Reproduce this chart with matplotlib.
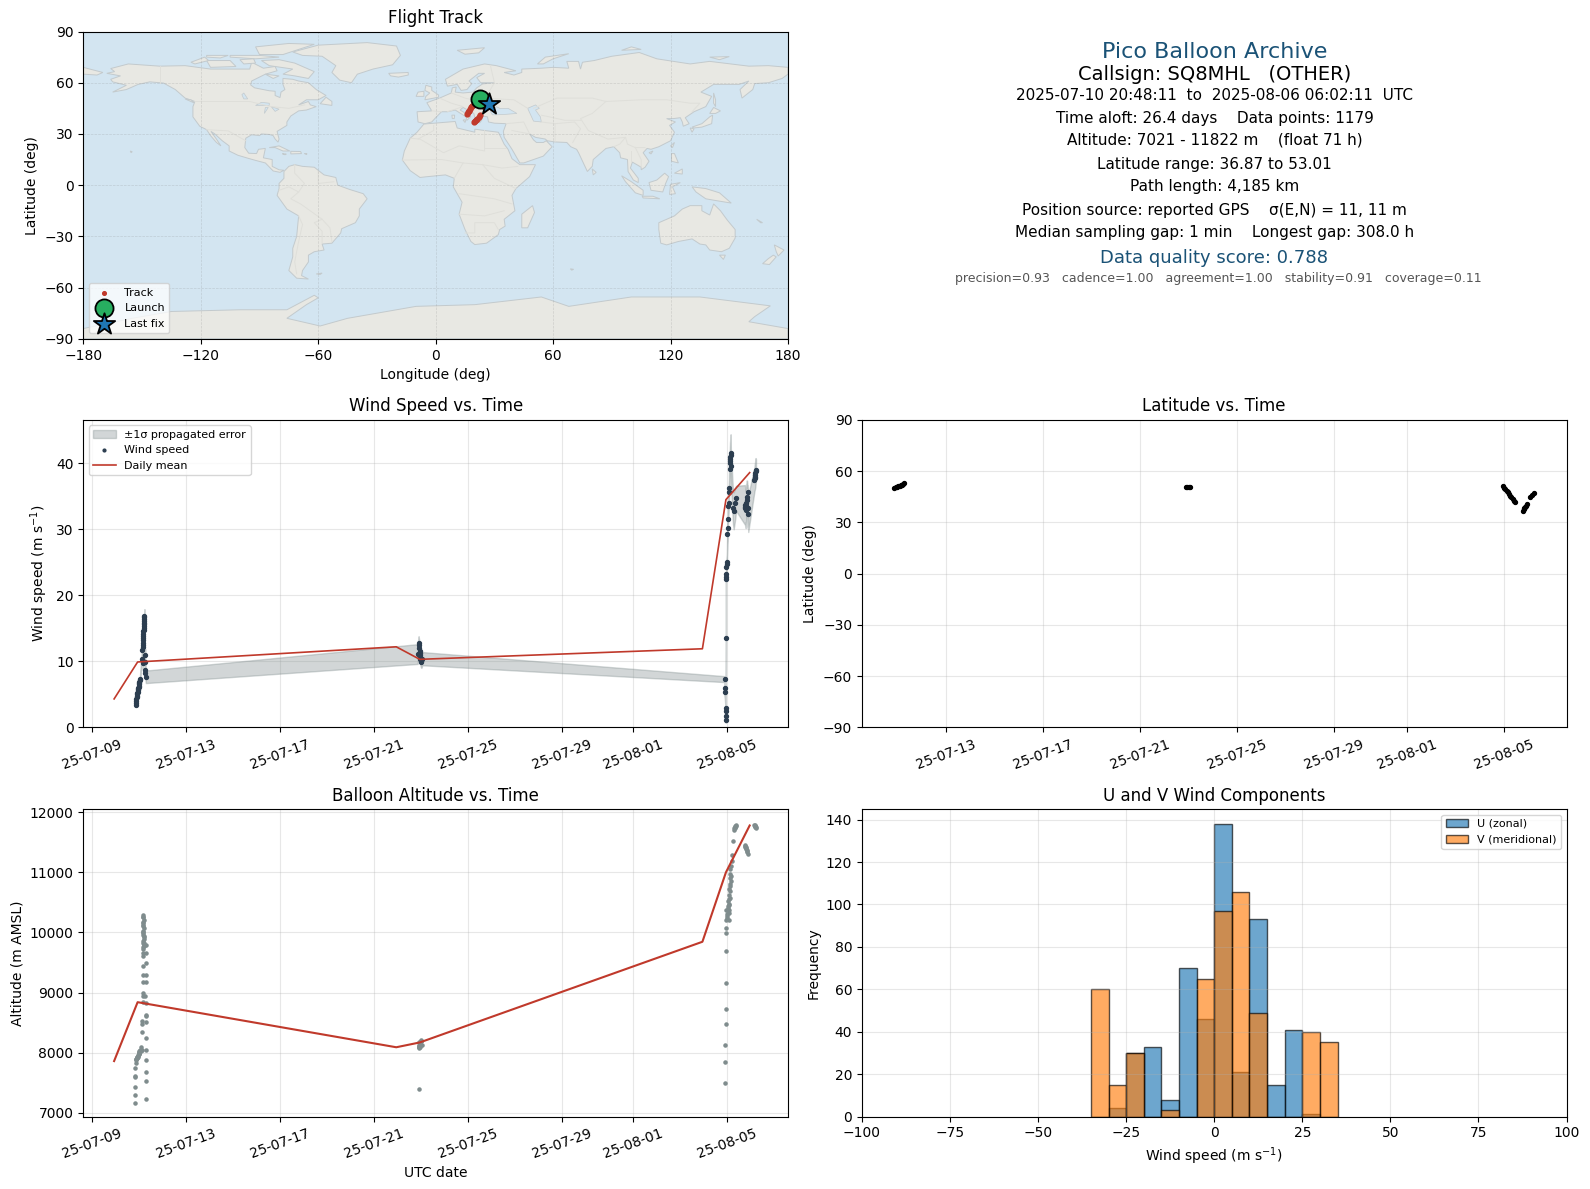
"""Plots a four day-by-day summary of a pico balloon flight."""


import datetime

import matplotlib
matplotlib.use('Agg')
import matplotlib.dates as mdates
import matplotlib.pyplot as plt
import numpy as np
from matplotlib.patches import Polygon


_FIG_WIDTH = 1590
_FIG_HEIGHT = 1189

_OCEAN_COLOR = '#d3e5f1'
_LAND_COLOR = '#e8e8e3'
_RED = '#c0392b'
_DARK = '#2c3e50'
_GRAY = '#7f8c8d'
_TITLE_BLUE = '#1a5276'

_START_DATE = datetime.datetime(2025, 7, 9)

# Times below are days since 2025-07-09 00:00 UTC.

mean_days = [0.95, 1.95, 12.95, 13.95, 25.97, 26.97, 27.98]
mean_wind = [4.3, 9.9, 12.2, 10.3, 11.9, 34.5, 38.6]
mean_altitude = [7860, 8840, 8090, 8170, 9845, 11000, 11780]

wind_days = [
    1.87, 1.88, 1.89, 1.90, 1.91, 1.92, 1.93, 1.94, 1.95, 1.96, 1.97, 1.98,
    1.99, 2.00, 2.01, 2.02, 2.03, 2.04, 2.05, 2.15, 2.15, 2.16, 2.17, 2.17,
    2.18, 2.18, 2.19, 2.19, 2.20, 2.20, 2.21, 2.21, 2.22, 2.22, 2.22, 2.23,
    2.23, 2.24, 2.24, 2.25, 2.26, 2.27, 2.28, 2.30,
    13.86, 13.90, 13.92, 13.93, 13.94, 13.95, 13.96, 13.97, 13.98, 14.00,
    14.02, 14.06,
    26.91, 26.91, 26.91, 26.96, 26.96, 26.96, 26.96, 26.97, 26.97, 26.97,
    26.97, 26.99, 27.00, 27.01, 27.03, 27.05, 27.05, 27.07, 27.08, 27.10,
    27.10, 27.13, 27.14, 27.15, 27.15, 27.16, 27.17, 27.17, 27.18,
    27.27, 27.30, 27.37, 27.40,
    27.78, 27.80, 27.80, 27.81, 27.82, 27.83, 27.85, 27.87, 27.90, 27.90,
    27.92,
    28.18, 28.19, 28.20, 28.21, 28.22, 28.23, 28.25,
]
wind_speed = [
    3.4, 3.7, 4.0, 4.3, 4.6, 4.8, 5.0, 5.2, 5.4, 5.6, 5.8, 5.9,
    6.1, 6.3, 6.5, 6.7, 6.9, 7.1, 7.3, 11.7, 10.4, 9.7, 13.2, 12.8,
    12.5, 12.1, 13.6, 13.9, 14.2, 14.6, 15.0, 14.8, 15.4, 15.8, 15.6, 16.1,
    16.4, 16.7, 16.8, 8.7, 9.9, 11.0, 8.2, 7.65,
    11.1, 12.8, 12.4, 12.0, 11.6, 11.2, 10.9, 10.6, 10.3, 10.0,
    9.9, 10.4,
    7.3, 5.9, 5.3, 3.0, 2.4, 1.7, 1.1, 13.6, 22.4, 22.8,
    23.2, 24.3, 24.7, 25.1, 29.3, 30.2, 31.5, 33.5, 34.0, 35.7,
    36.3, 39.2, 40.0, 40.6, 40.3, 41.0, 41.5, 41.2, 39.6,
    33.3, 32.8, 34.0, 34.7,
    33.7, 33.2, 33.4, 33.0, 34.0, 33.6, 34.9, 34.4, 33.2, 35.7,
    32.4,
    37.5, 37.8, 38.0, 38.2, 38.5, 38.8, 39.0,
]
wind_sigma = [
    0.3, 0.3, 0.3, 0.3, 0.4, 0.4, 0.4, 0.4, 0.4, 0.4, 0.4, 0.4,
    0.4, 0.4, 0.4, 0.4, 0.5, 0.5, 0.5, 0.8, 0.8, 0.8, 0.9, 0.9,
    0.9, 0.9, 0.9, 1.0, 1.0, 1.0, 1.0, 1.0, 1.1, 1.1, 1.1, 1.1,
    1.1, 1.1, 1.1, 0.9, 0.9, 0.9, 0.9, 0.95,
    1.5, 1.0, 1.0, 1.0, 1.0, 1.0, 1.0, 1.0, 1.0, 0.9,
    0.9, 1.0,
    0.45, 0.4, 0.4, 0.4, 0.4, 0.4, 0.4, 0.5, 0.6, 0.6,
    0.6, 1.0, 1.0, 1.0, 1.5, 1.5, 1.5, 1.8, 1.8, 2.0,
    2.0, 2.5, 2.7, 2.8, 2.8, 2.9, 2.9, 2.9, 2.6,
    2.5, 2.8, 2.3, 1.9,
    3.0, 2.8, 2.8, 2.8, 2.8, 2.8, 2.5, 3.0, 3.0, 1.0,
    2.8,
    1.8, 1.9, 2.0, 2.0, 2.1, 2.0, 1.6,
]

altitude_days = [
    2.19, 2.20, 2.21, 2.19, 2.20, 2.21, 2.19, 2.20, 2.22, 2.21, 2.19, 2.20,
    2.21, 2.16, 2.29, 2.29, 2.16, 2.29, 2.16, 2.16, 2.29, 2.16, 2.29, 2.16,
    2.27, 2.16, 2.18, 2.29, 2.29, 2.13, 2.29, 2.13, 2.29, 2.13, 2.29, 2.13,
    2.08, 2.29, 2.01, 1.94, 1.87, 2.29, 1.94, 2.01, 2.08, 1.87, 1.84, 2.29,
    1.84, 1.84, 2.29, 1.84, 1.84, 2.29, 1.84,
    13.90, 13.91, 13.92, 13.93, 13.94, 13.94, 13.95, 13.96, 13.97, 13.98,
    13.99, 14.00, 14.02, 14.03, 13.95,
    26.91, 26.91, 26.91, 26.96, 26.96, 26.96, 26.96, 26.96, 26.96, 26.96,
    27.12, 27.01, 27.08, 26.97, 27.11, 27.04, 27.11, 27.07, 27.14, 27.16,
    27.16, 27.17, 27.17, 27.19, 27.21, 27.22, 27.26, 27.33, 27.37, 27.40,
    27.33, 27.78, 27.79, 27.82, 27.87, 27.91, 28.18, 28.22, 28.25, 28.20,
    # Denser parts of the clusters.
    1.88, 1.90, 1.92, 1.93, 1.95, 1.96, 1.97, 1.99, 2.00, 2.02, 2.03, 2.05,
    2.18, 2.18, 2.18, 2.19, 2.20, 2.21, 2.22, 2.22, 2.17, 2.17,
    13.91, 13.92, 13.93, 13.95, 13.96, 13.97, 13.98, 13.99,
    27.00, 27.03, 27.05, 27.06, 27.08, 27.09, 27.10, 27.12, 27.13, 27.14,
    27.15, 27.16, 27.34, 27.36, 27.39, 27.80, 27.83, 27.84, 27.86, 27.88,
    28.19, 28.21, 28.23,
]
altitude = [
    10296, 10252, 10208, 10163, 10119, 10075, 10030, 9986, 9942, 9897, 9853,
    9820, 9797, 9753, 9797, 9660, 9610, 9500, 9440, 9290, 9290, 9170, 9170,
    9000, 8950, 8945, 8845, 8820, 8610, 8530, 8620, 8480, 8510, 8340, 8250,
    8050, 8090, 8050, 7970, 7930, 7900, 7880, 7935, 8000, 8025, 7820, 7740,
    7680, 7610, 7600, 7530, 7430, 7300, 7230, 7170,
    7390, 8080, 8100, 8120, 8130, 8140, 8150, 8160, 8170, 8180, 8190, 8200,
    8210, 8130, 8150,
    7500, 7850, 8133, 8482, 8732, 9165, 9697, 9997, 10080, 10213,
    10213, 10268, 10324, 10380, 10380, 10435, 10462, 10518, 10573, 10684,
    10767, 10850, 10933, 11100, 11183, 11294, 11527, 11710, 11766, 11782,
    11745, 11460, 11430, 11405, 11350, 11311, 11794, 11750, 11738, 11770,
    7880, 7895, 7910, 7905, 7925, 7950, 7960, 7980, 7990, 8010, 8030, 8050,
    10260, 10180, 10100, 10010, 9960, 9920, 9830, 9770, 9720, 9660,
    8090, 8110, 8170, 8100, 8120, 8140, 8160, 8190,
    10240, 10300, 10350, 10400, 10480, 10550, 10620, 10720, 10800, 10900,
    10980, 11050, 11730, 11750, 11770, 11440, 11420, 11385, 11370, 11335,
    11780, 11770, 11760,
]

track_days = [
    1.87, 1.93, 1.99, 2.05, 2.10, 2.15, 2.20, 2.25, 2.28,
    13.90, 13.95, 14.00, 14.05,
    26.96, 27.00, 27.05, 27.10, 27.15, 27.20, 27.25, 27.30, 27.35, 27.40,
    27.44,
    27.77, 27.80, 27.83, 27.86, 27.90, 27.95,
    28.05, 28.15, 28.25,
]
track_lat = [
    50.3, 50.5, 50.8, 51.0, 51.3, 51.7, 52.1, 52.6, 53.0,
    50.6, 50.6, 50.6, 50.7,
    51.2, 50.3, 49.4, 48.5, 47.5, 46.6, 45.6, 44.6, 43.6, 42.6,
    41.8,
    36.9, 37.5, 38.2, 39.0, 39.8, 41.0,
    45.0, 46.2, 47.4,
]
track_lon = [
    22.6, 22.8, 23.0, 23.2, 23.4, 23.6, 24.0, 24.5, 25.0,
    22.0, 22.2, 22.4, 22.6,
    21.8, 21.2, 20.6, 20.0, 19.4, 18.8, 18.2, 17.6, 17.0, 16.4,
    15.9,
    19.5, 20.0, 20.6, 21.2, 21.9, 22.6,
    25.0, 26.2, 27.3,
]

hist_edges = [
    -35, -30, -25, -20, -15, -10, -5, 0, 5, 10, 15, 20, 25, 30, 35]
hist_u = [0, 4, 30, 33, 8, 70, 46, 138, 21, 93, 15, 41, 1, 0]
hist_v = [60, 15, 30, 0, 3, 0, 65, 97, 106, 49, 0, 0, 40, 35]

info_title = 'Pico Balloon Archive'
info_callsign = 'Callsign: SQ8MHL   (OTHER)'
info_lines = [
    '2025-07-10 20:48:11  to  2025-08-06 06:02:11  UTC',
    'Time aloft: 26.4 days    Data points: 1179',
    'Altitude: 7021 - 11822 m    (float 71 h)',
    'Latitude range: 36.87 to 53.01',
    'Path length: 4,185 km',
    'Position source: reported GPS    \u03c3(E,N) = 11, 11 m',
    'Median sampling gap: 1 min    Longest gap: 308.0 h',
]
info_score = 'Data quality score: 0.788'
info_parts = (
    'precision=0.93   cadence=1.00   agreement=1.00   stability=0.91   '
    'coverage=0.11')

# Rough world outlines, (longitude, latitude).

north_america = [
    (-168, 65.5), (-164, 66.5), (-166, 68.3), (-157, 71), (-141, 69.7),
    (-128, 70), (-115, 68), (-108, 68), (-95, 68), (-94, 72), (-88, 68.5),
    (-82, 69.5), (-81, 67), (-87, 65), (-94, 61), (-94.5, 58.7), (-92.5, 57),
    (-85, 55.3), (-82, 55), (-82, 52.5), (-79.5, 51.3), (-79, 54.5),
    (-77, 56), (-78, 59), (-78, 62.5), (-73, 62), (-70, 61), (-65, 60),
    (-61, 56), (-56, 52.5), (-60, 50), (-66, 50), (-70, 47), (-65, 49),
    (-64, 47), (-61, 46), (-66, 44), (-70, 43.5), (-74, 40.5), (-76, 37),
    (-76, 35), (-81, 31.5), (-80, 27), (-80.5, 25.2), (-82, 27), (-83, 29),
    (-85, 29.7), (-89, 30), (-90, 29), (-94, 29.5), (-97, 27.5), (-97.5, 22),
    (-95.5, 18.7), (-91.5, 18.5), (-90.5, 21), (-87, 21.5), (-88, 16),
    (-83.5, 15), (-83.5, 11), (-80, 9), (-77.5, 8.7), (-79.5, 7.5),
    (-83, 8.3), (-87, 13), (-92, 14.5), (-96, 15.8), (-101, 17.5),
    (-105.5, 20), (-105.5, 23), (-109, 26), (-112.8, 30), (-114.8, 31.5),
    (-112, 27), (-109.7, 23), (-112, 25), (-115, 29), (-117, 32.5),
    (-120.5, 34.5), (-124, 40), (-124, 46), (-123, 49), (-128, 51),
    (-133, 56), (-139, 59.8), (-146, 60.5), (-152, 59), (-158, 56),
    (-165, 54.5), (-158, 58.5), (-165, 60.5), (-166, 62), (-161, 64),
]
south_america = [
    (-75, 11), (-72, 12), (-68, 11), (-62, 10.5), (-57, 6), (-51, 4.5),
    (-50, 0), (-44, -2.5), (-37, -5), (-35, -8), (-39, -14), (-39, -18),
    (-41, -22), (-48, -25.5), (-48.5, -28), (-53, -34), (-58, -34.5),
    (-57, -38), (-62, -39), (-65, -41), (-65, -45), (-68, -50), (-68.5, -53),
    (-65, -55), (-71, -54.5), (-75, -50), (-73, -42), (-73, -37), (-71, -30),
    (-70, -18), (-76, -14), (-81, -6), (-80, -2), (-80, 1), (-77.5, 4),
    (-77.5, 8),
]
africa = [
    (-6, 35.8), (10, 37.3), (11, 33.5), (20, 31), (20, 32.8), (25, 32),
    (32, 31), (32.5, 30), (35, 24), (37, 21), (39, 15.5), (43, 12), (51, 12),
    (48, 5), (41, -2), (39, -6), (40.5, -15), (35, -20), (35.5, -24),
    (32.7, -26), (32, -29), (26, -34), (20, -34.8), (18, -33), (15, -26),
    (12, -17), (13.5, -10), (9, -1), (9.5, 4), (5, 6), (-4, 5), (-8, 4.5),
    (-13, 8.5), (-17, 14.7), (-16, 20), (-13, 27.5), (-9.5, 31),
]
eurasia = [
    (-9, 37), (-9.5, 43), (-2, 43.5), (-4.5, 48.3), (2, 51), (8, 54),
    (8.5, 57), (10.5, 57.5), (10, 54.5), (14, 54), (19, 54.5), (21, 57),
    (24, 59.3), (30, 60), (23, 60), (21, 63), (25, 65.5), (22, 65.5),
    (17, 61), (18.5, 59.5), (16, 56), (13, 55.5), (11, 59), (6, 58), (5, 62),
    (14, 68), (25, 71), (31, 70), (41, 67), (35, 66), (40, 64.5), (44, 66),
    (44, 68), (54, 68.5), (60, 69), (68, 68.5), (67, 72.5), (73, 72.5),
    (74, 68), (75, 72), (81, 73), (90, 75.5), (104, 77.7), (113, 74),
    (130, 71), (140, 72.5), (160, 69.7), (170, 70), (180, 69), (180, 65),
    (177, 62.5), (170, 60), (163, 59.5), (162, 56), (156.5, 51), (155.5, 56),
    (160, 61), (155, 59), (142, 59), (135.5, 54.5), (141, 52), (138, 46),
    (132, 43), (127.5, 39.5), (129.5, 36), (126.5, 34.5), (126, 37),
    (125, 39.5), (121.5, 39), (118, 39), (122.5, 37), (119.5, 35), (122, 31),
    (120, 26), (114, 22.5), (110, 21), (108, 21.5), (106, 19), (109, 14),
    (107, 10.5), (105, 9), (105, 10.5), (100.5, 13.5), (99.5, 10),
    (103.5, 4), (103.5, 1.5), (101, 3), (98.3, 8), (98, 15), (94.5, 16),
    (94, 19), (91, 22.5), (87, 21.5), (80.5, 15), (80, 11), (77.5, 8),
    (73, 19), (72, 21), (69, 22.5), (67, 25), (61, 25.3), (57, 26), (56, 27),
    (51, 28), (48, 30), (50, 26.5), (51.5, 25), (55, 25), (56.5, 26),
    (59.5, 22.5), (55, 17), (45, 13), (43, 13), (39, 21), (35, 28),
    (34.6, 31.5), (36, 36), (30, 36.3), (27, 37), (26.5, 40), (24, 40.5),
    (23.5, 38), (22.5, 36.5), (20, 39.5), (19.5, 42), (14, 45.5),
    (12.5, 44), (18, 40.2), (16, 38), (15.5, 40), (10, 44), (6, 43), (3, 43),
    (0, 39.5), (-2, 37), (-5.5, 36),
]
antarctica = [
    (-180, -84), (-155, -78), (-135, -74), (-100, -73), (-76, -73),
    (-62, -64.5), (-60, -66), (-66, -70), (-76, -78), (-59, -82.5),
    (-45, -78), (-10, -71), (20, -70), (54, -65.5), (68, -71), (100, -65.5),
    (135, -65.5), (171, -70.7), (163, -77), (160, -80), (180, -84),
    (180, -90), (-180, -90),
]
australia = [
    (114, -22), (122, -18), (126, -14), (130, -12), (136, -12), (136, -15),
    (140, -17.5), (142, -11), (145.5, -15), (149, -20.5), (153, -26),
    (153, -31), (150, -37), (146, -39), (140, -38), (138, -35), (135, -34.5),
    (131, -31.5), (124, -33), (118, -35), (115, -34), (114, -26),
]
greenland = [
    (-73, 78), (-60, 82), (-35, 83.5), (-20, 81.5), (-18, 76), (-22, 70.5),
    (-32, 68), (-40, 65), (-43, 60), (-49, 61.5), (-53, 66), (-51, 70),
    (-58, 75.5), (-68, 76),
]
islands = [
    [(-80, 73.5), (-72, 71.5), (-62, 66.5), (-65, 62.5), (-72, 64), (-78, 65),
     (-73, 68), (-85, 70), (-89, 73)],
    [(-117, 73), (-105, 73), (-102, 69.5), (-115, 69)],
    [(-125, 72), (-118, 75), (-116, 73), (-123, 71)],
    [(-90, 76.5), (-78, 76.5), (-62, 82.5), (-75, 83), (-92, 81)],
    [(-105, 76), (-90, 76), (-80, 75), (-92, 74), (-105, 75)],
    [(-117, 76), (-106, 76), (-110, 74.5), (-117, 75)],
    [(-100, 73.5), (-93, 74), (-92, 71.5), (-98, 71)],
    [(-59, 47.7), (-53, 46.7), (-53, 49), (-56, 51.5)],
    [(-87, 65), (-80, 64), (-83, 62.5)],
    [(-128, 50.5), (-124, 48.5), (-123.5, 48.5), (-125, 50)],
    [(-85, 22), (-80, 23), (-74.5, 20), (-78, 20), (-82, 22)],
    [(-74, 19.8), (-69, 19.7), (-68.5, 18.5), (-74, 18.3)],
    [(-78.3, 18.4), (-76.3, 18.2), (-77, 17.8)],
    [(-67, 18.5), (-65.7, 18.4), (-66, 18)],
    [(-156, 20), (-155, 19.6), (-155.6, 19)],
    [(-61, -52), (-58, -51.5), (-59, -52.3)],
    [(-180, 69), (-170, 66), (-173, 64.5), (-180, 65)],
    [(-5.5, 50), (1.5, 51.5), (1.5, 52.8), (-2, 55.5), (-2, 57.5), (-5, 58.5),
     (-5.5, 55.5), (-3, 54), (-5, 52)],
    [(-10, 52), (-6, 52), (-6, 55), (-9, 54.5)],
    [(-24, 65.5), (-14, 66), (-14, 64.5), (-19, 63.3), (-23, 64)],
    [(11, 79), (25, 80.5), (22, 77.5), (15, 76.7)],
    [(52, 71), (56, 75), (68, 77), (60, 74), (55, 71)],
    [(95, 79), (105, 79.5), (100, 81)],
    [(142, 54), (143, 50), (143, 46), (142, 48)],
    [(140, 42), (142, 45.5), (145.5, 43.5), (143, 42)],
    [(131, 34), (136, 36), (140, 40), (141.5, 41), (141, 36), (136, 34),
     (132, 33.5)],
    [(130, 33.5), (132, 33), (131, 31)],
    [(120, 23), (122, 25), (121, 22)],
    [(109, 19), (111, 20), (110, 18.3)],
    [(80, 9.5), (82, 7.5), (80.5, 6)],
    [(95, 5.5), (100, 2), (106, -3), (106, -6), (102, -4.5), (97, 2)],
    [(105.5, -6.5), (111, -6.5), (114.5, -8), (106, -7.5)],
    [(109, 1.5), (113, 3), (117, 7), (119, 5), (117.5, 1), (116, -4),
     (110, -3)],
    [(119.5, -5.5), (120, 0.5), (125, 1.5), (121, -1), (122.5, -5)],
    [(120.5, 18.5), (122, 18.5), (124, 13), (120.5, 14)],
    [(122, 7), (126, 9.5), (126, 6.5)],
    [(131, -1), (138, -2), (145, -4.5), (151, -10.5), (143, -9), (138, -8),
     (133, -4)],
    [(145, -41), (148, -41), (147, -43.5)],
    [(173, -35), (178, -38), (175, -41.5), (174, -39)],
    [(172.5, -41), (174, -42), (170.5, -46.5), (167, -46), (170, -43)],
    [(49.5, -12), (50.5, -16), (47, -25), (44, -25), (44, -17)],
    [(164, -20), (167, -22), (166, -22)],
    [(68.8, -49), (70.5, -49.3), (69.5, -49.8)],
    [(14, 38.2), (15.5, 38.2), (15, 36.7)],
    [(8.3, 41), (9.7, 41), (9.5, 39), (8.5, 39)],
    [(140, 75), (150, 75.3), (145, 73.5)],
]
inland_waters = [
    [(28, 43), (31, 46), (33, 44.8), (37, 45), (41.5, 42), (36, 41.5),
     (31, 41.2), (29, 41.2)],
    [(47, 45), (51, 47), (53, 45), (51, 44), (53.5, 40), (54, 37), (50, 37.5),
     (49, 40)],
    [(-92, 46.7), (-85, 46.7), (-85, 48), (-89, 48.5)],
    [(-87.5, 42), (-85.5, 45.5), (-87, 45.5)],
    [(-84, 46), (-80, 44.5), (-82, 43.2)],
    [(-98, 50.5), (-96, 50.5), (-98, 54), (-99, 53)],
]
borders = [
    [(-123, 49), (-95, 49), (-84, 46), (-75, 45), (-67, 47)],
    [(-117, 32.5), (-106, 31.8), (-97, 26)],
    [(-141, 69.7), (-141, 60)],
    [(-72, 12), (-72, 7), (-67, 1), (-70, -4), (-74, -8), (-69, -11),
     (-58, -20), (-54, -25), (-53, -33)],
    [(-80, -3), (-75, -1), (-70, -4)],
    [(-70, -18), (-68, -23), (-70, -33), (-72, -45), (-71, -52)],
    [(-58, -20), (-62, -22), (-58, -27), (-58, -34)],
    [(-60, 8), (-60, 1), (-52, 2)],
    [(-9, 27), (-1, 32), (-1, 35)],
    [(-13, 27.5), (-8, 27), (4, 19), (12, 23), (25, 20), (25, 32)],
    [(25, 22), (36, 22)],
    [(-17, 14.7), (3, 15), (14, 13), (24, 12), (34, 10), (42, 11)],
    [(9.5, 4), (14, 13)],
    [(24, 12), (30, 4), (41, -2)],
    [(12, -5), (30, -8), (39, -11)],
    [(12, -17), (25, -18), (35, -15)],
    [(15, -28), (20, -28), (20, -22), (30, -22), (32, -26)],
    [(-2, 43.5), (3, 43)],
    [(2, 51), (8, 48), (14, 46), (6, 43)],
    [(8, 54), (15, 51), (23, 49), (29, 45)],
    [(19, 54.5), (24, 51), (40, 50), (47, 45)],
    [(28, 70), (30, 60), (28, 56), (24, 51)],
    [(36, 36), (45, 37), (48, 30)],
    [(39, 32), (48, 30)],
    [(54, 37), (61, 36), (61, 25.3)],
    [(61, 36), (71, 37), (74, 33), (70, 25)],
    [(50, 45), (62, 51), (80, 51), (87, 49), (105, 50), (118, 50), (130, 48),
     (135, 48), (131, 43)],
    [(87, 49), (80, 42), (74, 39), (78, 32), (88, 27), (97, 28), (98, 24),
     (102, 22), (107, 22)],
    [(54, 41), (66, 38), (74, 38)],
    [(97, 28), (94, 24), (91, 22.5)],
    [(100, 20), (100, 13.5)],
    [(102, 22), (105, 15), (105, 10.5)],
]


def _main():
    fig = plt.figure(figsize=(_FIG_WIDTH / 100, _FIG_HEIGHT / 100), dpi=100)
    _plot_map(_create_axes(fig, 83.3, 31.5, 788, 338.8))
    _write_info(fig)
    _plot_wind(_create_axes(fig, 83.3, 419.8, 788, 727.3))
    _plot_latitude(_create_axes(fig, 862, 419.8, 1566.5, 727.3))
    _plot_altitude(_create_axes(fig, 83.3, 809, 788, 1116.5))
    _plot_histogram(_create_axes(fig, 862, 809, 1566.5, 1116.5))
    fig.savefig('out.png', dpi=100)


def _create_axes(fig, left, top, right, bottom):
    # Edges are in pixels, measured from the top left of the figure.
    return fig.add_axes([
        left / _FIG_WIDTH, 1 - bottom / _FIG_HEIGHT,
        (right - left) / _FIG_WIDTH, (bottom - top) / _FIG_HEIGHT])


def _dates(days):
    return mdates.date2num(_START_DATE) + np.array(days)


def _format_time_axis(ax, x_min, x_max):
    ax.set_xlim(_dates(x_min), _dates(x_max))
    ax.xaxis.set_major_locator(mdates.DayLocator(bymonthday=range(1, 32, 4)))
    ax.xaxis.set_major_formatter(mdates.DateFormatter('%y-%m-%d'))
    plt.setp(ax.get_xticklabels(), rotation=20, ha='center')
    ax.grid(True, alpha=0.3)
    ax.set_axisbelow(True)


def _plot_map(ax):
    ax.set_facecolor(_OCEAN_COLOR)
    lands = [north_america, south_america, africa, eurasia, antarctica,
             australia, greenland] + islands
    for outline in lands:
        ax.add_patch(Polygon(
            outline, closed=True, facecolor=_LAND_COLOR, edgecolor='#c3cacd',
            linewidth=0.7, zorder=1))
    for outline in inland_waters:
        ax.add_patch(Polygon(
            outline, closed=True, facecolor=_OCEAN_COLOR, edgecolor='#c3cacd',
            linewidth=0.5, zorder=1.1))
    for outline in borders:
        x, y = zip(*outline)
        ax.plot(x, y, color='#dfdfda', linewidth=0.7, zorder=1.2)

    ax.scatter(track_lon, track_lat, s=12, color=_RED, zorder=3, label='Track')
    ax.scatter(track_lon[0:1], track_lat[0:1], s=170, color='#27ae60',
               edgecolor='black', linewidth=1.3, zorder=4, label='Launch')
    ax.scatter(track_lon[-1:], track_lat[-1:], s=260, marker='*',
               color='#1f77b4', edgecolor='black', linewidth=1.3, zorder=5,
               label='Last fix')

    ax.set_xlim(-180, 180)
    ax.set_ylim(-90, 90)
    ax.set_xticks(np.arange(-180, 181, 60))
    ax.set_yticks(np.arange(-90, 91, 30))
    ax.grid(True, color='gray', linestyle='--', linewidth=0.5, alpha=0.25,
            zorder=2)
    ax.set_xlabel('Longitude (deg)')
    ax.set_ylabel('Latitude (deg)')
    ax.set_title('Flight Track', fontsize=12)
    legend = ax.legend(loc='lower left', fontsize=8, framealpha=0.75)
    legend.legend_handles[0].set_sizes([7])


def _write_info(fig):
    _write_line(fig, 52, info_title, 16, _TITLE_BLUE)
    _write_line(fig, 74, info_callsign, 14, 'black')
    line_rows = [95, 118, 140, 164, 187, 210, 233]
    for row, line in zip(line_rows, info_lines):
        _write_line(fig, row, line, 11, 'black')
    _write_line(fig, 258, info_score, 13, _TITLE_BLUE)
    _write_line(fig, 279, info_parts, 9, '#555555', 1218)


def _write_line(fig, row, text, size, color, column=1214.5):
    fig.text(column / _FIG_WIDTH, 1 - row / _FIG_HEIGHT, text, fontsize=size,
             color=color, ha='center', va='center')


def _plot_wind(ax):
    x = _dates(wind_days)
    speed = np.array(wind_speed)
    sigma = np.array(wind_sigma)
    ax.fill_between(x, speed - sigma, speed + sigma, color=_GRAY, alpha=0.35,
                    label='\u00b11\u03c3 propagated error')
    ax.scatter(x, speed, s=8, color=_DARK, zorder=3, label='Wind speed')
    ax.plot(_dates(mean_days), mean_wind, color=_RED, linewidth=1.2, zorder=4,
            label='Daily mean')
    _format_time_axis(ax, -0.36, 29.61)
    ax.set_ylim(0, 46.6)
    ax.set_ylabel('Wind speed (m s$^{-1}$)')
    ax.set_title('Wind Speed vs. Time', fontsize=12)
    legend = ax.legend(loc='upper left', fontsize=8)
    legend.legend_handles[1].set_sizes([4])


def _plot_latitude(ax):
    ax.scatter(_dates(track_days), track_lat, s=8, color='black')
    _format_time_axis(ax, 0.55, 29.57)
    ax.set_ylim(-90, 90)
    ax.set_yticks(np.arange(-90, 91, 30))
    ax.set_ylabel('Latitude (deg)')
    ax.set_title('Latitude vs. Time', fontsize=12)


def _plot_altitude(ax):
    ax.scatter(_dates(altitude_days), altitude, s=5, color=_GRAY, zorder=3)
    ax.plot(_dates(mean_days), mean_altitude, color=_RED, linewidth=1.5,
            zorder=4)
    _format_time_axis(ax, -0.36, 29.61)
    ax.set_ylim(6938, 12054)
    ax.set_xlabel('UTC date')
    ax.set_ylabel('Altitude (m AMSL)')
    ax.set_title('Balloon Altitude vs. Time', fontsize=12)


def _plot_histogram(ax):
    left = hist_edges[:-1]
    width = np.diff(hist_edges)
    ax.bar(left, hist_u, width=width, align='edge', color='#1f77b4',
           edgecolor='black', alpha=0.65, label='U (zonal)')
    ax.bar(left, hist_v, width=width, align='edge', color='#ff7f0e',
           edgecolor='black', alpha=0.65, label='V (meridional)')
    ax.set_xlim(-100, 100)
    ax.set_ylim(0, 145)
    ax.grid(True, alpha=0.3)
    ax.set_xlabel('Wind speed (m s$^{-1}$)')
    ax.set_ylabel('Frequency')
    ax.set_title('U and V Wind Components', fontsize=12)
    ax.legend(loc='upper right', fontsize=8)


if __name__ == '__main__':
    _main()
